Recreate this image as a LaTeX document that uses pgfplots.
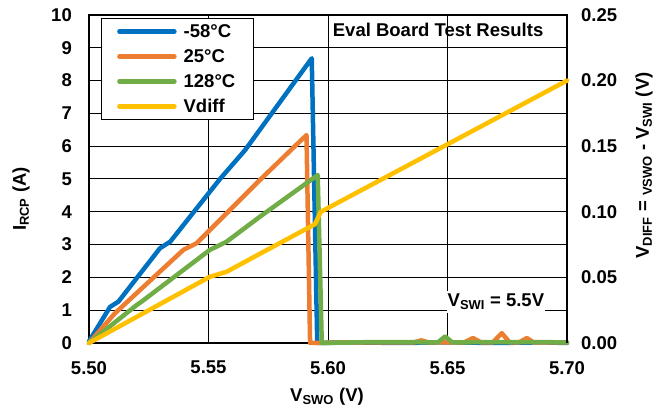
\documentclass[border=0pt]{standalone}
\usepackage{fontspec}
\setmainfont{Liberation Sans}
\usepackage{pgfplots}
\pgfplotsset{compat=1.18}
\definecolor{cblue}{HTML}{0070C0}
\definecolor{corange}{HTML}{ED7D31}
\definecolor{cgreen}{HTML}{70AD47}
\definecolor{cyellow}{HTML}{FFC000}
\newcommand{\ff}{\fontsize{18.5bp}{22bp}\selectfont\bfseries}
\begin{document}
\begin{tikzpicture}
\path[use as bounding box] (0,0) rectangle (659bp,412bp);
\begin{axis}[
  at={(89bp,69bp)}, anchor=south west,
  scale only axis, width=478bp, height=328bp,
  xmin=5.5, xmax=5.7, ymin=0, ymax=10,
  xtick={5.50,5.55,5.60,5.65,5.70},
  xticklabels={5.50,5.55,5.60,5.65,5.70},
  ytick={0,1,2,3,4,5,6,7,8,9,10},
  yticklabels={0,1,2,3,4,5,6,7,8,9,10},
  major tick length=0pt,
  grid=major, grid style={black, line width=1bp},
  axis line style={black, line width=1.8bp},
  tick label style={font=\ff, inner sep=0pt},
  xticklabel style={anchor=north, yshift=-18bp},
  yticklabel style={anchor=east, xshift=-17bp},
  clip=false,
  every axis plot/.append style={line width=4.5bp, line cap=round, line join=round},
  legend style={at={(0.0245,0.99)}, anchor=north west, draw=black, line width=0.9bp,
    fill=white, font=\ff, inner xsep=16bp, inner ysep=3.3bp, row sep=6bp, column sep=5bp,
    cells={anchor=west, inner xsep=0bp, inner ysep=5bp, text height=13.5bp, text depth=0bp}},
  legend image code/.code={\draw[#1, line width=4.5bp, line cap=round] (0bp,0bp) -- (55bp,0bp);},
]
\addplot[cblue] coordinates {
 (5.500,0.05) (5.5088,1.1) (5.5123,1.26) (5.5297,2.89) (5.534,3.09) (5.5548,5.0) (5.5653,5.88) (5.5932,8.68)
 (5.5955,0) (5.61,0.02) (5.63,0.0) (5.65,0.02) (5.67,0.0) (5.69,0.02) (5.70,0.0)};
\addlegendentry{-58°C}
\addplot[corange] coordinates {
 (5.500,0.0) (5.5109,0.91) (5.5395,2.84) (5.545,3.04) (5.5715,4.97) (5.591,6.34)
 (5.5925,0) (5.61,0.02) (5.636,0.02) (5.639,0.08) (5.642,0.02) (5.657,0.02) (5.6607,0.15) (5.664,0.02)
 (5.669,0.02) (5.6727,0.3) (5.676,0.02) (5.680,0.02) (5.6832,0.15) (5.686,0.02) (5.70,0.02)};
\addlegendentry{25°C}
\addplot[cgreen] coordinates {
 (5.500,0.0) (5.520,1.16) (5.522,1.26) (5.5506,2.84) (5.5576,3.09) (5.5715,3.85) (5.5957,5.12)
 (5.5974,0) (5.62,0.03) (5.646,0.02) (5.649,0.2) (5.652,0.02) (5.68,0.03) (5.70,0.02)};
\addlegendentry{128°C}
\addlegendimage{cyellow}
\addlegendentry{Vdiff}
\end{axis}
\begin{axis}[
  at={(89bp,69bp)}, anchor=south west,
  scale only axis, width=478bp, height=328bp,
  xmin=5.5, xmax=5.7, ymin=0, ymax=0.25,
  axis x line=none, axis y line*=right,
  ytick={0,0.05,0.10,0.15,0.20,0.25},
  yticklabels={0.00,0.05,0.10,0.15,0.20,0.25},
  major tick length=0pt,
  axis line style={black, line width=1.8bp},
  tick label style={font=\ff, inner sep=0pt},
  yticklabel style={anchor=west, xshift=14bp},
  clip=false,
]
\addplot[cyellow, line width=4.5bp, line cap=round, line join=round] coordinates {
 (5.500,0.0) (5.5506,0.0505) (5.5576,0.0543) (5.5715,0.068) (5.5945,0.0905) (5.597,0.100) (5.700,0.200)};
\end{axis}
\node[anchor=base west, inner sep=0pt, font=\ff] at (332.7bp,375bp) {Eval Board Test Results};
\node[anchor=base west, inner xsep=1bp, inner ysep=3bp, fill=white, font=\ff] at (446.5bp,105.3bp) {V\textsubscript{SWI} = 5.5V};
\node[rotate=90, font=\ff] at (21bp,213bp) {I\textsubscript{RCP} (A)};
\node[rotate=90, font=\ff] at (644bp,246.5bp) {V\textsubscript{DIFF} = \textsubscript{VSWO} - V\textsubscript{SWI} (V)};
\node[anchor=base, font=\ff] at (327bp,11bp) {V\textsubscript{SWO} (V)};
\end{tikzpicture}
\end{document}
